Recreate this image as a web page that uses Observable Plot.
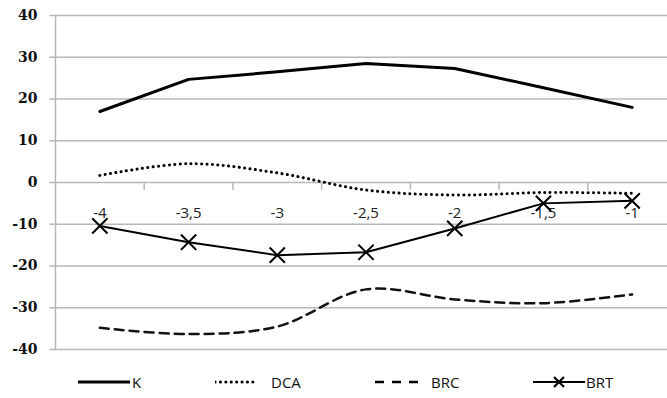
<!DOCTYPE html>
<html>
<head>
<meta charset="utf-8">
<script src="https://cdn.jsdelivr.net/npm/d3@7"></script>
<script src="https://cdn.jsdelivr.net/npm/@observablehq/plot@0.6"></script>
<style>
  html, body { margin: 0; padding: 0; background: #fff; overflow: hidden; width: 667px; height: 398px; }
  #chart { width: 680px; height: 365px; }
  #chart svg { display: block; max-width: none !important; width: 680px !important; height: 365px !important; }
  #chart g[aria-label="ylabels"] text { font-family: "DejaVu Serif", serif !important; font-weight: bold !important; font-size: 14px !important; }
  #chart g[aria-label="xlabels"] text { font-family: "Open Sans", sans-serif !important; font-size: 15px !important; }
  #legend { position: relative; height: 33px; font-family: "Open Sans", "Liberation Sans", sans-serif; font-size: 15px; color: #111; }
  .item { position: absolute; top: 0; height: 33px; display: flex; align-items: center; }
  .item svg { display: block; }
</style>
</head>
<body>
<div id="chart"></div>
<div id="legend"></div>
<script>
const xValues = [-4, -3.5, -3, -2.5, -2, -1.5, -1];
const xLabels = ["-4", "-3,5", "-3", "-2,5", "-2", "-1,5", "-1"];
const K   = [17.0, 24.7, 26.5, 28.5, 27.3, 22.7, 18.0];
const DCA = [1.7, 4.5, 2.3, -1.8, -3.0, -2.4, -2.6];
const BRC = [-34.8, -36.3, -34.5, -25.6, -28.0, -28.9, -26.8];
const BRT = [-10.4, -14.3, -17.4, -16.7, -11.0, -5.0, -4.4];
const yTicks = [-40, -30, -20, -10, 0, 10, 20, 30, 40];
const seriesNames = ["K", "DCA", "BRC", "BRT"];

const rows = (vals) => xValues.map((x, i) => ({x, y: vals[i]}));
const boundaries = xValues.map(x => x + 0.25);

const plot = Plot.plot({
  width: 680,
  height: 365,
  marginLeft: 55,
  marginRight: 4,
  marginTop: 15,
  marginBottom: 16,
  x: {type: "linear", domain: [-4.25, -0.75], axis: null},
  y: {domain: [-40, 40], axis: null},
  marks: [
    Plot.ruleY(yTicks, {x1: -4.281, x2: -0.75, stroke: "#b8b8b8", strokeWidth: 1.5}),
    Plot.ruleX([-4.25], {y1: -40, y2: 40, stroke: "#b8b8b8", strokeWidth: 1.5}),
    Plot.ruleX(boundaries, {y1: 0, y2: -1.9, stroke: "#b8b8b8", strokeWidth: 1.5}),
    Plot.text(yTicks, {x: -4.25, y: d => d, text: d => String(d), textAnchor: "end", dx: -18,
      fontFamily: "DejaVu Serif", fontWeight: "bold", fontSize: 14, fill: "#111", ariaLabel: "ylabels"}),
    Plot.text(xValues, {x: d => d, y: 0, text: (d, i) => xLabels[i], dy: 31,
      fontFamily: "Open Sans", fontSize: 15, fill: "#222", ariaLabel: "xlabels"}),
    Plot.line(rows(K), {x: "x", y: "y", stroke: "#000", strokeWidth: 3}),
    Plot.line(rows(DCA), {x: "x", y: "y", stroke: "#000", strokeWidth: 3, strokeDasharray: "0.1 5.3", strokeLinecap: "round", curve: "catmull-rom"}),
    Plot.line(rows(BRC), {x: "x", y: "y", stroke: "#111", strokeWidth: 2.5, strokeDasharray: "9 6", curve: "catmull-rom"}),
    Plot.line(rows(BRT), {x: "x", y: "y", stroke: "#000", strokeWidth: 2}),
    Plot.dot(rows(BRT), {x: "x", y: "y", symbol: "times", r: 7, stroke: "#000", strokeWidth: 2})
  ]
});
document.getElementById("chart").appendChild(plot);

// legend
const legend = document.getElementById("legend");
const legendPos = [78, 215, 375, 533];
const styles = [
  {w: 52, dash: null, sw: 3, cap: "butt", marker: false},
  {w: 42, dash: "0.1 5.3", sw: 3, cap: "round", marker: false},
  {w: 44, dash: "9 8", sw: 2.5, cap: "butt", marker: false},
  {w: 52, dash: null, sw: 2, cap: "butt", marker: true}
];
const gaps = [2, 14, 12, 1];
seriesNames.forEach((name, i) => {
  const s = styles[i];
  const div = document.createElement("div");
  div.className = "item";
  div.style.left = legendPos[i] + "px";
  const ns = "http://www.w3.org/2000/svg";
  const svg = document.createElementNS(ns, "svg");
  svg.setAttribute("width", s.w);
  svg.setAttribute("height", 20);
  const ln = document.createElementNS(ns, "line");
  ln.setAttribute("x1", 0); ln.setAttribute("x2", s.w);
  ln.setAttribute("y1", 10); ln.setAttribute("y2", 10);
  ln.setAttribute("stroke", "#000");
  ln.setAttribute("stroke-width", s.sw);
  ln.setAttribute("stroke-linecap", s.cap);
  if (s.dash) ln.setAttribute("stroke-dasharray", s.dash);
  svg.appendChild(ln);
  if (s.marker) {
    const p = document.createElementNS(ns, "path");
    const c = s.w / 2, h = 5;
    p.setAttribute("d", `M${c-h},${10-h}L${c+h},${10+h}M${c-h},${10+h}L${c+h},${10-h}`);
    p.setAttribute("stroke", "#000");
    p.setAttribute("stroke-width", 2.2);
    svg.appendChild(p);
  }
  div.appendChild(svg);
  const t = document.createElement("span");
  t.textContent = name;
  t.style.marginLeft = gaps[i] + "px";
  div.appendChild(t);
  legend.appendChild(div);
});
</script>
</body>
</html>
